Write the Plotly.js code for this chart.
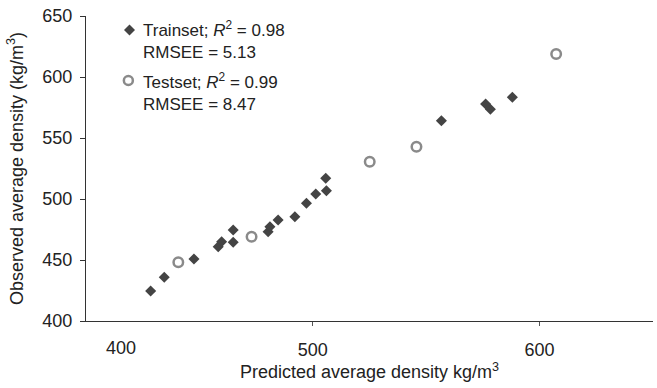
<!DOCTYPE html>
<html>
<head>
<meta charset="utf-8">
<script src="https://cdn.plot.ly/plotly-3.0.1.min.js"></script>
<style>
  html, body { margin: 0; padding: 0; background: #fff; }
  #chart { width: 657px; height: 388px; }
</style>
</head>
<body>
<div id="chart"></div>
<script>
// Training set: predicted vs observed average density (kg/m3)
const trainPredicted = [428.5, 434.5, 447.6, 458.3, 459.8, 464.9, 464.9, 480.3, 481.1, 484.7, 492.1, 497.2, 501.3, 506.0, 505.7, 556.7, 576.2, 578.3, 588.0];
const trainObserved  = [424.6, 435.8, 450.8, 460.9, 465.0, 474.6, 464.5, 473.2, 477.3, 482.8, 485.5, 496.5, 504.1, 506.8, 517.0, 564.2, 577.9, 573.5, 583.4];

// Test set
const testPredicted = [440.7, 473.0, 525.1, 545.7, 607.3];
const testObserved  = [448.1, 469.1, 530.6, 542.9, 618.9];

// Key text, one block per set
const trainKey = "Trainset; <i>R</i><sup>2</sup> = 0.98<br>RMSEE = 5.13";
const testKey  = "Testset; <i>R</i><sup>2</sup> = 0.99<br>RMSEE = 8.47";

const xTicks = [500, 600];
const yTicks = [400, 450, 500, 550, 600, 650];

const trainColor = "#444";
const testColor = "#8a8a8a";
const font = { family: "Liberation Sans, Arial, sans-serif", size: 18, color: "#222" };
const keyFont = { family: "Liberation Sans, Arial, sans-serif", size: 17, color: "#222" };

const traces = [
  {
    x: trainPredicted, y: trainObserved, name: "Trainset",
    type: "scatter", mode: "markers", showlegend: false,
    marker: { symbol: "diamond", size: 8.5, color: trainColor, line: { width: 0 } }
  },
  {
    x: testPredicted, y: testObserved, name: "Testset",
    type: "scatter", mode: "markers", showlegend: false,
    marker: { symbol: "circle-open", size: 9.5, color: testColor, line: { width: 2.5, color: testColor } }
  }
];

// Key placement in paper coordinates
const keyX = 0.0767, textX = 0.0975;
const symbolY = [0.9541, 0.7885];
const blockTop = [1.0, 0.831];

const keyBlocks = [trainKey, testKey].map((t, i) => ({
  xref: "paper", yref: "paper", x: textX, y: blockTop[i],
  xanchor: "left", yanchor: "top", align: "left", showarrow: false,
  text: t, font: keyFont
}));

const layout = {
  width: 657, height: 388,
  margin: { l: 86, r: 4, t: 16, b: 67 },
  paper_bgcolor: "#fff", plot_bgcolor: "#fff",
  font: font,
  showlegend: false,
  xaxis: {
    range: [400, 650], fixedrange: true,
    tickvals: xTicks, ticktext: xTicks.map(String),
    ticks: "outside", ticklen: 4, tickcolor: "#555", tickwidth: 1,
    ticklabelstandoff: 8,
    showline: true, linecolor: "#333", linewidth: 1,
    showgrid: false, zeroline: false,
    tickfont: font,
    title: { text: "Predicted average density kg/m<sup>3</sup>", font: font, standoff: 6 }
  },
  yaxis: {
    range: [400, 650], fixedrange: true,
    tickvals: yTicks, ticktext: yTicks.map(String),
    ticks: "outside", ticklen: 5, tickcolor: "#333", tickwidth: 1,
    ticklabelstandoff: 4,
    showline: true, linecolor: "#333", linewidth: 1,
    showgrid: false, zeroline: false,
    tickfont: font,
    title: { text: "Observed average density (kg/m<sup>3</sup>)", font: font, standoff: 14 }
  },
  shapes: [
    {
      type: "path", xref: "paper", yref: "paper",
      xsizemode: "pixel", ysizemode: "pixel", xanchor: keyX, yanchor: symbolY[0],
      path: "M0,5.5L5.5,0L0,-5.5L-5.5,0Z",
      fillcolor: trainColor, line: { width: 0 }
    },
    {
      type: "circle", xref: "paper", yref: "paper",
      xsizemode: "pixel", ysizemode: "pixel", xanchor: keyX - 0.002, yanchor: symbolY[1],
      x0: -4.5, x1: 4.5, y0: -4.5, y1: 4.5,
      fillcolor: "rgba(0,0,0,0)", line: { color: testColor, width: 2.5 }
    }
  ],
  annotations: [
    {
      xref: "x", yref: "paper", x: 400, y: 0, xshift: 35, yshift: -15,
      xanchor: "center", yanchor: "top", showarrow: false,
      text: "400", font: font
    }
  ].concat(keyBlocks)
};

Plotly.newPlot("chart", traces, layout, { staticPlot: true, displayModeBar: false });
</script>
</body>
</html>
